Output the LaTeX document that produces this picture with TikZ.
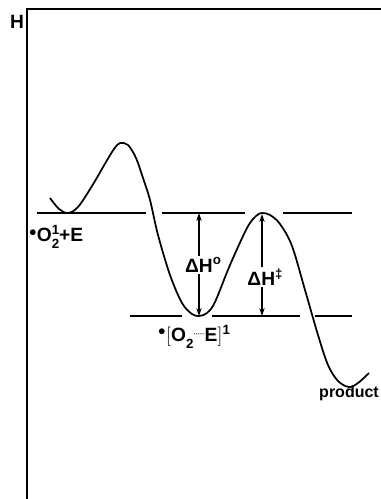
\documentclass[tikz,border=0pt]{standalone}
\usepackage{fontspec}
\setmainfont{Liberation Sans}
\usetikzlibrary{arrows.meta}

\tikzset{
  curveline/.style={line width=1.3pt, line join=round},
  levelline/.style={line width=1.2pt},
  enarrow/.style={line width=0.9pt, {Stealth[length=6pt,width=4pt]}-{Stealth[length=6pt,width=4pt]}},
  lbl/.style={font=\bfseries\Large, inner sep=1pt}
}
\newcommand{\hi}[1]{\raisebox{0.75ex}{\normalsize #1}}
\newcommand{\lo}[1]{\raisebox{-0.7ex}{\normalsize #1}}

\begin{document}
\begin{tikzpicture}[x=0.75pt, y=-0.75pt]
    \useasboundingbox (0,0) rectangle (381,499);

    % Achsen
    \draw[line width=1.4pt] (27,499) -- (27,9) -- (381,9);
    \node[lbl] (hax) at (17,22) {H};

    % Energieniveaus
    \coordinate (u1) at (37,213);
    \coordinate (u2) at (146,213);
    \coordinate (u3) at (162,213);
    \coordinate (u4) at (245,213);
    \coordinate (u5) at (283,213);
    \coordinate (u6) at (352,213);
    \coordinate (l1) at (130,316);
    \coordinate (l2) at (182,316);
    \coordinate (l3) at (212,316);
    \coordinate (l4) at (300,316);
    \coordinate (l5) at (315,316);
    \coordinate (l6) at (352,316);
    \draw[levelline] (u1) -- (u2) (u3) -- (u4) (u5) -- (u6);
    \draw[levelline] (l1) -- (l2) (l3) -- (l4) (l5) -- (l6);

    % Reaktionskurve
    \draw[curveline] plot[smooth, tension=0.55] coordinates {
        (50,198) (59,209) (68,213) (78,207) (92,186) (106,162) (114,149)
        (120,143) (128,145) (136,158) (143,178) (150,200) (158,235)
        (170,275) (182,303) (192,314) (199,316) (207,313) (215,302)
        (230,265) (247,228) (256,216) (262,213) (270,215) (280,224)
        (292,246) (305,290) (318,335) (328,365) (338,381) (349,387)
        (358,383) (369,373)};

    % Pfeile
    \coordinate (dh0top) at (199,213);
    \coordinate (dh0bot) at (199,316);
    \coordinate (dhttop) at (262,214);
    \coordinate (dhtbot) at (262,316);
    \draw[enarrow] (dh0top) -- (dh0bot);
    \draw[enarrow] (dhttop) -- (dhtbot);
    \node[lbl, fill=white] (dh0) at (203,265) {ΔH\hi{o}};
    \node[lbl, fill=white] (dht) at (265,277) {ΔH\hi{‡}};

    % Beschriftungen
    \node[lbl] (reac) at (56,237) {\raisebox{0.5ex}{\normalsize●}O\rlap{\hi{1}}\lo{2}+E};
    \node[lbl] (inter) at (194,337) {\raisebox{0.6ex}{\normalsize●}$\Big[$O\lo{2}\raisebox{0.5ex}{\tiny·····}E$\Big]$\hi{1}};
    \node[lbl, font=\bfseries\large] (prod) at (349,393) {product};
\end{tikzpicture}
\end{document}
